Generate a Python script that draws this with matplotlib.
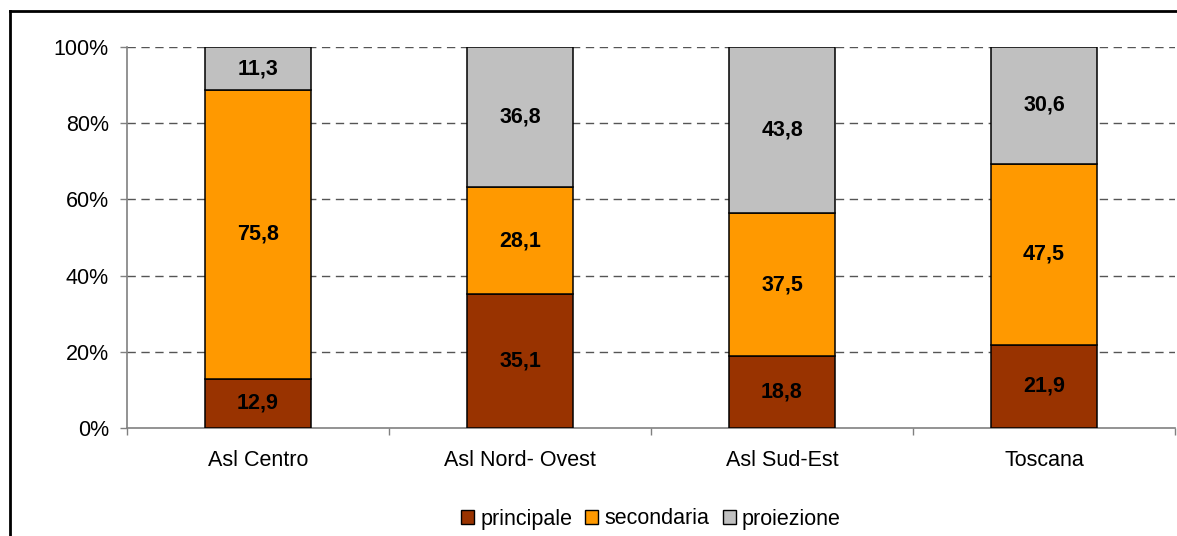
import numpy as np
import matplotlib
matplotlib.use("Agg")
import matplotlib.pyplot as plt
from matplotlib.lines import Line2D
from matplotlib.patches import Patch

plt.rcParams['font.family'] = ['Liberation Sans', 'DejaVu Sans']

categories = ["Asl Centro", "Asl Nord- Ovest", "Asl Sud-Est", "Toscana"]
principale = [12.9, 35.1, 18.8, 21.9]
secondaria = [75.8, 28.1, 37.5, 47.5]
proiezione = [11.3, 36.8, 43.8, 30.6]
series_names = ["principale", "secondaria", "proiezione"]
colors = ["#993300", "#FF9900", "#C0C0C0"]
yticks = [0, 20, 40, 60, 80, 100]
ytick_labels = ["0%", "20%", "40%", "60%", "80%", "100%"]

fs = 15.5

fig = plt.figure(figsize=(11.77, 5.36), dpi=100)
ax = fig.add_axes([127 / 1177, 1 - 428 / 536, 1048 / 1177, 381 / 536])

x = np.arange(len(categories))
bottom = np.zeros(len(categories))
data = [principale, secondaria, proiezione]
for vals, name, col in zip(data, series_names, colors):
    vals = np.array(vals)
    ax.bar(x, vals, width=0.405, bottom=bottom, color=col, edgecolor="black",
           linewidth=1.1, label=name, zorder=3)
    for xi, b, v in zip(x, bottom, vals):
        ax.text(xi, b + v / 2, f"{v:.1f}".replace(".", ","), ha="center", va="center",
                fontsize=fs, fontweight="bold", zorder=4)
    bottom += vals

ax.set_xlim(-0.5, len(categories) - 0.5)
ax.set_ylim(0, 100)
ax.set_yticks(yticks)
ax.set_yticklabels(ytick_labels, fontsize=fs)
ax.tick_params(axis="y", length=5, width=1, color="#808080", pad=8)

# ticks between categories, labels at centres
ax.set_xticks(np.arange(len(categories) + 1) - 0.5)
ax.set_xticklabels([])
ax.tick_params(axis="x", which="major", length=5, width=1, color="#808080", direction="out")
ax.set_xticks(x, minor=True)
ax.set_xticklabels(categories, minor=True, fontsize=fs)
ax.tick_params(axis="x", which="minor", length=0, pad=16)

for y in yticks[1:]:
    ax.axhline(y, color="#555555", linewidth=1, linestyle=(0, (6, 4)), zorder=1)

for side in ["top", "right"]:
    ax.spines[side].set_visible(False)
for side in ["left", "bottom"]:
    ax.spines[side].set_color("#808080")
    ax.spines[side].set_linewidth(1.2)

handles = [Patch(facecolor=c, edgecolor="black", linewidth=1) for c in colors]
fig.legend(handles, series_names, loc="center", bbox_to_anchor=(651 / 1177, 1 - 519 / 536),
           ncol=3, frameon=False, fontsize=fs, handlelength=0.6, handleheight=0.6,
           handletextpad=0.3, columnspacing=0.6, borderaxespad=0)

# outer chart frame
fig.add_artist(Line2D([9.5 / 1177, 9.5 / 1177], [0, 1 - 11 / 536], color="black", linewidth=2,
                      transform=fig.transFigure))
fig.add_artist(Line2D([9.5 / 1177, 1.0], [1 - 11 / 536, 1 - 11 / 536], color="black", linewidth=2,
                      transform=fig.transFigure))

fig.savefig("out.png", dpi=100)
